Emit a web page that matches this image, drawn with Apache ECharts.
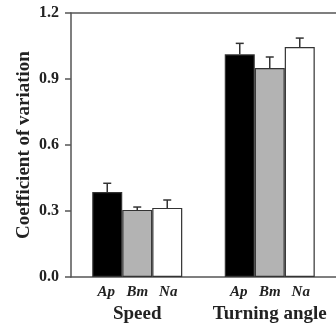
<!DOCTYPE html>
<html><head><meta charset="utf-8">
<script src="https://cdn.jsdelivr.net/npm/echarts@6/dist/echarts.min.js"></script>
<style>html,body{margin:0;padding:0;background:#fff}#c{width:336px;height:329px}</style>
</head><body><div id="c"></div>
<script>
const groups = ['Speed', 'Turning angle'];
const speciesNames = ['Ap', 'Bm', 'Na'];
const meanAp = [0.386, 1.012];
const meanBm = [0.305, 0.950];
const meanNa = [0.314, 1.045];
const errAp = [0.040, 0.050];
const errBm = [0.013, 0.050];
const errNa = [0.036, 0.041];
const yTicks = [0.0, 0.3, 0.6, 0.9, 1.2];

const colors = ['#000000', '#b3b3b3', '#ffffff'];
const means = [meanAp, meanBm, meanNa];
const errs = [errAp, errBm, errNa];
const BW = 30;
const serif = '"Liberation Serif", "Times New Roman", serif';

const chart = echarts.init(document.getElementById('c'));
const series = [];
speciesNames.forEach((s, k) => {
  series.push({
    type: 'bar', name: s, data: means[k], barWidth: BW, barGap: '0%',
    itemStyle: { color: colors[k], borderColor: '#333', borderWidth: 1.2 },
    z: 2
  });
});
speciesNames.forEach((s, k) => {
  series.push({
    type: 'custom', name: s + '_err',
    data: groups.map((g, i) => [i, means[k][i], means[k][i] + errs[k][i]]),
    renderItem: function (params, api) {
      const x = api.coord([api.value(0), 0])[0] + (k - 1) * BW;
      const yb = api.coord([0, api.value(1)])[1];
      const yt = api.coord([0, api.value(2)])[1];
      const st = { stroke: '#333', lineWidth: 1.5 };
      return { type: 'group', children: [
        { type: 'line', shape: { x1: x, y1: yb, x2: x, y2: yt }, style: st },
        { type: 'line', shape: { x1: x - 4, y1: yt, x2: x + 4, y2: yt }, style: st }
      ]};
    },
    z: 3
  });
});

chart.setOption({
  animation: false,
  backgroundColor: '#fff',
  grid: { left: 71, right: -1, top: 13, bottom: 52 },
  xAxis: [{
    type: 'category', data: groups, position: 'bottom',
    axisLine: { lineStyle: { color: '#555', width: 1.5 } },
    axisTick: { show: false },
    axisLabel: {
      interval: 0, margin: 6,
      formatter: function (v) {
        return speciesNames.map(s => '{i|' + s + '}').join('') + '\n{b|' + v + '}';
      },
      rich: {
        i: { fontFamily: serif, fontStyle: 'italic', fontWeight: 'bold', fontSize: 15, color: '#222', width: 31, align: 'center', lineHeight: 19 },
        b: { fontFamily: serif, fontWeight: 'bold', fontSize: 19, color: '#222', lineHeight: 25 }
      }
    }
  }, {
    type: 'category', data: groups, position: 'top',
    axisLine: { lineStyle: { color: '#555', width: 1.5 } },
    axisTick: { show: false }, axisLabel: { show: false }
  }],
  yAxis: {
    type: 'value', min: 0, max: 1.2, interval: 0.3,
    name: 'Coefficient of variation', nameLocation: 'middle', nameGap: 37,
    nameMoveOverlap: false,
    nameTextStyle: { fontFamily: serif, fontWeight: 'bold', fontSize: 19, color: '#222' },
    axisLine: { show: true, lineStyle: { color: '#555', width: 1.5 } },
    axisTick: { show: true, length: 6, lineStyle: { color: '#555', width: 1.5 } },
    splitLine: { show: false },
    axisLabel: {
      margin: 12, fontFamily: serif, fontWeight: 'bold', fontSize: 16, color: '#222',
      formatter: v => v.toFixed(1)
    }
  },
  series: series
});
</script></body></html>
